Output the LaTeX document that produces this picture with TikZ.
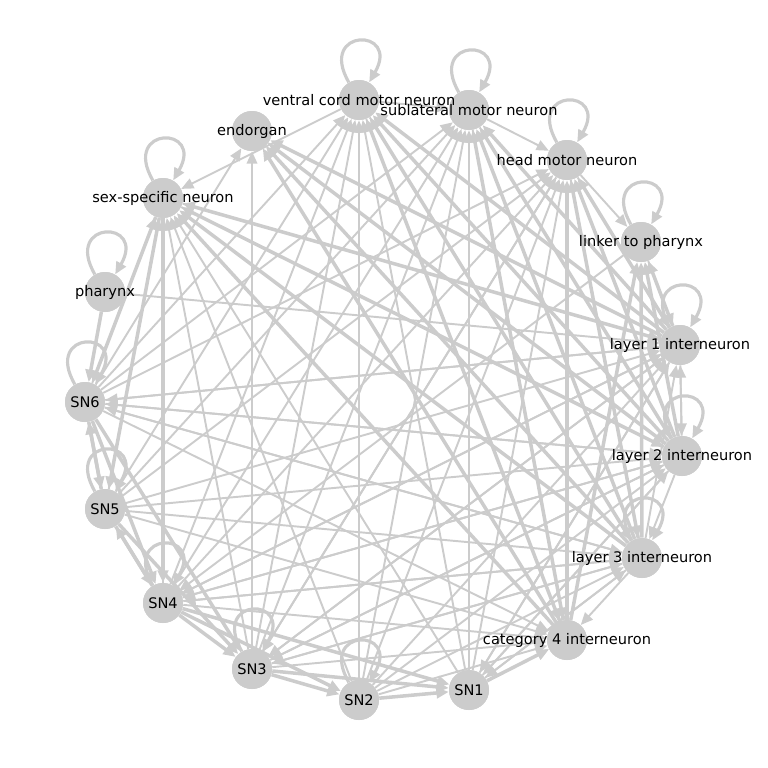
\documentclass[tikz,border=0pt]{standalone}
\usepackage{fontspec}
\setmainfont{DejaVu Sans}
\usetikzlibrary{arrows.meta}

\tikzset{
    neuron/.style={circle, fill=black!20, minimum size=0.8cm, inner sep=0pt},
    tag/.style={font=\fontsize{8.3}{10}\selectfont, text=black},
    edge/.style={draw=black!20, line width=1.1pt, -{Triangle[length=7pt, width=6pt]}},
    heavy/.style={edge, line width=2pt},
    selfloop/.style={edge, line width=1.8pt, looseness=8, out=120, in=60}
}

\begin{document}
\begin{tikzpicture}[x=0.02cm, y=-0.02cm]

    \useasboundingbox (0,0) rectangle (768,768);

    % node places (pixel grid, y downwards)
    \foreach \n/\x/\y in {vc/359/100, sl/469/110, eo/252/131, hm/567/160,
        ss/163/198, lp/641/242, ph/105/292, l1/680/345, s6/85/402,
        l2/682/456, s5/105/509, l3/642/558, s4/163/603, c4/567/640,
        s3/252/669, s1/469/690, s2/359/700}
        \coordinate (\n) at (\x,\y);

    % circles first, so edges can end at their rims
    \foreach \n in {vc,sl,eo,hm,ss,lp,ph,l1,s6,l2,s5,l3,s4,c4,s3,s1,s2}
        \node[neuron] (\n c) at (\n) {};

    % sensory neurons to interneurons and motor neurons
    \foreach \a in {s1,s2,s3,s4,s5,s6}
        \foreach \b in {vc,sl,hm,l1,l2,l3,c4,ss}
            \draw[edge] (\a c) -- (\b c);

    % interneurons to motor neurons
    \foreach \a in {l1,l2,l3,c4}
        \foreach \b in {vc,sl,hm,lp,ss,eo}
            \draw[heavy] (\a c) -- (\b c);

    % interneurons back to sensory neurons
    \foreach \a in {l1,l2,l3}
        \foreach \b in {s1,s3,s4,s6}
            \draw[edge] (\a c) -- (\b c);

    % sensory chain
    \foreach \a/\b in {s6/s5, s5/s4, s4/s3, s3/s2, s2/s1, s1/c4, s6/s4,
        s5/s3, s4/s2, s3/s1, s4/s1, s6/s3, s5/s6, s4/s5, ph/s6, ss/s6,
        ss/s5, ss/s4}
        \draw[heavy] (\a c) -- (\b c);

    % among interneurons and motor neurons
    \foreach \a/\b in {l1/l2, l2/l3, l3/c4, l2/l1, l3/l1, hm/l1, sl/l2,
        vc/l3, hm/lp, lp/l1, sl/hm, vc/sl, hm/l3, sl/c4, vc/c4, ph/l1,
        eo/l2, ss/l1, ss/l2, vc/ss, s6/eo, s3/eo, lp/s4, hm/s3}
        \draw[edge] (\a c) -- (\b c);

    % self loops
    \foreach \n in {vc,sl,hm,lp,ss,ph,l1,l2,l3,s6,s5,s4,s3,s2}
        \draw[selfloop] (\n c) to (\n c);

    % circles again on top
    \foreach \n in {vc,sl,eo,hm,ss,lp,ph,l1,s6,l2,s5,l3,s4,c4,s3,s1,s2}
        \node[neuron] at (\n) {};

    % labels
    \foreach \n/\t in {vc/ventral cord motor neuron, sl/sublateral motor neuron,
        eo/endorgan, hm/head motor neuron, ss/sex-specific neuron,
        lp/linker to pharynx, ph/pharynx, l1/layer 1 interneuron, s6/SN6,
        l2/layer 2 interneuron, s5/SN5, l3/layer 3 interneuron, s4/SN4,
        c4/category 4 interneuron, s3/SN3, s1/SN1, s2/SN2}
        \node[tag] (\n t) at (\n) {\t};

\end{tikzpicture}
\end{document}
